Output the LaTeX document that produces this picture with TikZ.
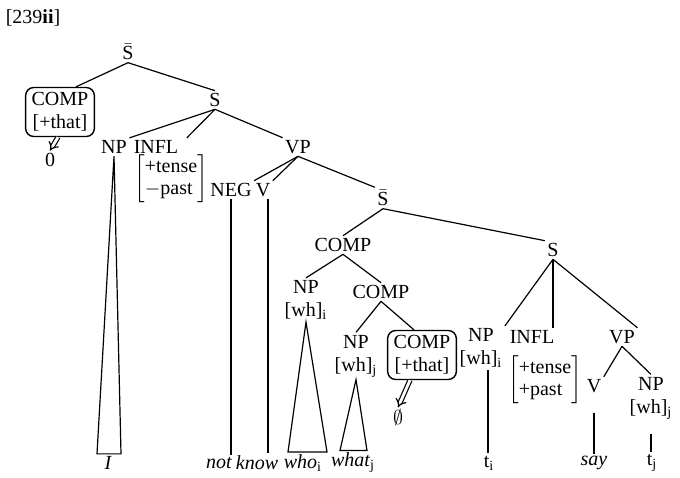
\documentclass[tikz,border=0pt]{standalone}
\usepackage{fontspec}
\setmainfont{Liberation Serif}
\usepackage{amsmath}
\usetikzlibrary{arrows.meta}

\newcommand{\tfont}{\fontsize{10}{11.5}\selectfont}
\newcommand{\feats}[2]{$\left[\mbox{\renewcommand{\arraystretch}{0.95}\begin{tabular}{@{}l@{}}#1\\#2\end{tabular}}\right]$}

\tikzset{
  cat/.style={inner sep=1pt, align=center, font=\tfont},
  compbox/.style={draw, line width=0.7pt, rounded corners=4pt, inner xsep=3pt, inner ysep=2.5pt, align=center, font=\tfont},
  word/.style={inner sep=1pt, font=\tfont\itshape},
  deleted/.style={double, double distance=1.4pt, -{Implies[length=3pt]}},
}

\begin{document}
\begin{tikzpicture}[x=0.5pt, y=-0.5pt, line width=0.6pt]
                \useasboundingbox (0,0) rectangle (680,477);
                \node[cat] (lbl) at (33,18) {[239\textbf{ii}]};

                % matrix clause
                \node[cat] (sbarA) at (128,52) {$\bar{\mbox{S}}$};
                \node[compbox] (compA) at (60,112) {COMP\\{[+that]}};
                \node[cat] (zeroA) at (50,160) {0};
                \node[cat] (sA) at (215,100) {S};
                \node[cat] (npA) at (114,147) {NP};
                \node[cat] (inflA) at (156,147) {INFL};
                \node[cat] (featA) at (171,179) {\feats{+tense}{$-$past}};
                \node[cat] (vpA) at (298,147) {VP};
                \node[cat] (neg) at (231,190) {NEG};
                \node[cat] (vA) at (263,190) {V};

                % embedded clause
                \node[cat] (sbarB) at (383,198) {$\bar{\mbox{S}}$};
                \node[cat] (compB) at (343,245) {COMP};
                \node[cat] (sB) at (553,250) {S};
                \node[cat] (npB) at (306,300) {NP\\{[wh]}$_{\mathrm{i}}$};
                \node[cat] (compC) at (381,292) {COMP};
                \node[cat] (npC) at (356,356) {NP\\{[wh]}$_{\mathrm{j}}$};
                \node[compbox] (compD) at (422,355) {COMP\\{[+that]}};
                \node[cat] (zeroD) at (398,418) {$\emptyset$};
                \node[cat] (npD) at (481,348) {NP\\{[wh]}$_{\mathrm{i}}$};
                \node[cat] (inflD) at (532,337) {INFL};
                \node[cat] (featD) at (545,380) {\feats{+tense}{+past}};
                \node[cat] (vpD) at (622,337) {VP};
                \node[cat] (vD) at (594,386) {V};
                \node[cat] (npE) at (651,398) {NP\\{[wh]}$_{\mathrm{j}}$};

                % terminals
                \node[word] (wI) at (108,463) {I};
                \node[word] (wnot) at (219,463) {not};
                \node[word] (wknow) at (257,463) {know};
                \node[word] (wwho) at (303,463) {who$_{\mathrm{i}}$};
                \node[word] (wwhat) at (353,463) {what$_{\mathrm{j}}$};
                \node[cat] (wti) at (489,463) {t$_{\mathrm{i}}$};
                \node[word] (wsay) at (594,463) {say};
                \node[cat] (wtj) at (652,463) {t$_{\mathrm{j}}$};

                % branches
                \draw (sbarA.south) -- ([xshift=8pt]compA.north);
                \draw (sbarA.south) -- (sA.north);
                \draw (sA.south) -- (npA.north east);
                \draw (sA.south) -- ([xshift=3pt]inflA.north east);
                \draw (sA.south) -- (vpA.north west);
                \draw (vpA.south) -- (neg.north east);
                \draw (vpA.south) -- (vA.north east);
                \draw (vpA.south) -- (sbarB.north west);
                \draw (sbarB.south) -- (compB.north);
                \draw (sbarB.south) -- (sB.north west);
                \draw (compB.south) -- (npB.north);
                \draw (compB.south) -- (compC.north);
                \draw (compC.south) -- (npC.north);
                \draw (compC.south) -- ([xshift=-4pt]compD.north);
                \draw (sB.south) -- (npD.north east);
                \draw (sB.south) -- (sB.south |- inflD.north);
                \draw (sB.south) -- (vpD.north east);
                \draw (vpD.south) -- (vD.north east);
                \draw (vpD.south) -- (npE.north);

                % triangles and unary lines
                \draw (npA.south) -- ([xshift=-5.5pt]wI.north) -- ([xshift=6.5pt]wI.north) -- cycle;
                \draw (npB.south) -- ([xshift=-7.5pt]wwho.north) -- ([xshift=12pt]wwho.north) -- cycle;
                \draw (npC.south) -- ([xshift=-6.5pt]wwhat.north) -- ([xshift=7pt]wwhat.north) -- cycle;
                \draw (neg.south) -- (neg.south |- wnot.north);
                \draw ([xshift=2.5pt]vA.south) -- ([xshift=2.5pt]vA.south |- wknow.north);
                \draw ([xshift=3.5pt]npD.south) -- ([xshift=3.5pt]npD.south |- wti.north);
                \draw ([yshift=-9pt]vD.south) -- (vD.south |- wsay.north);
                \draw ([yshift=-6pt]npE.south) -- (npE.south |- wtj.north);

                % deletion
                \draw[deleted] ([xshift=-1pt]compA.south) -- (zeroA.north);
                \draw[deleted] ([xshift=-6pt]compD.south) -- (zeroD.north);
            \end{tikzpicture}
\end{document}
